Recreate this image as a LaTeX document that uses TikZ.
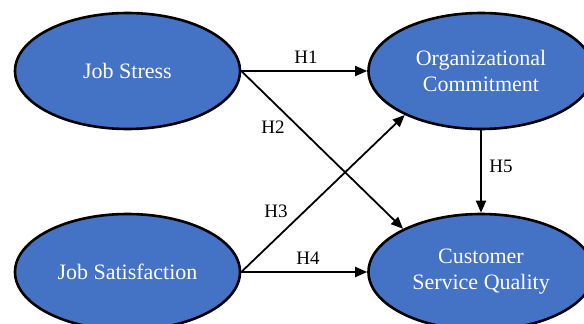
\documentclass[tikz,border=0pt]{standalone}
\usepackage{fontspec}
\setmainfont{Liberation Serif}
\usetikzlibrary{shapes.geometric,arrows.meta}
\definecolor{nodeblue}{HTML}{4472C4}
\begin{document}
\begin{tikzpicture}[x=1pt,y=-1pt,
  construct/.style={ellipse,draw=black,line width=2.6pt,fill=nodeblue,text=white,
    minimum width=225pt,minimum height=116pt,inner sep=0pt,align=center,
    font=\fontsize{22}{26}\selectfont},
  path arrow/.style={line width=1.8pt,-{Triangle[length=12pt,width=10pt]}},
  hlabel/.style={font=\fontsize{19}{22}\selectfont,inner sep=0pt}]
\path[use as bounding box,clip] (0,0) rectangle (584,324);
\node[construct] (js) at (127.5,71) {Job Stress};
\node[construct] (oc) at (481,71) {Organizational\\Commitment};
\node[construct] (jsat) at (127.5,272) {Job Satisfaction};
\node[construct] (csq) at (481,272) {Customer\\Service Quality};
\draw[path arrow] (js.east) -- (oc.west);
\draw[path arrow] (js.east) -- (csq.151);
\draw[path arrow] (jsat.east) -- (oc.210);
\draw[path arrow] (jsat.east) -- (csq.west);
\draw[path arrow] (oc.south) -- (csq.north);
\node[hlabel] (h1) at (306,57) {H1};
\node[hlabel] (h2) at (273,127) {H2};
\node[hlabel] (h3) at (276,211) {H3};
\node[hlabel] (h4) at (308,258) {H4};
\node[hlabel] (h5) at (501,166) {H5};
\end{tikzpicture}
\end{document}
